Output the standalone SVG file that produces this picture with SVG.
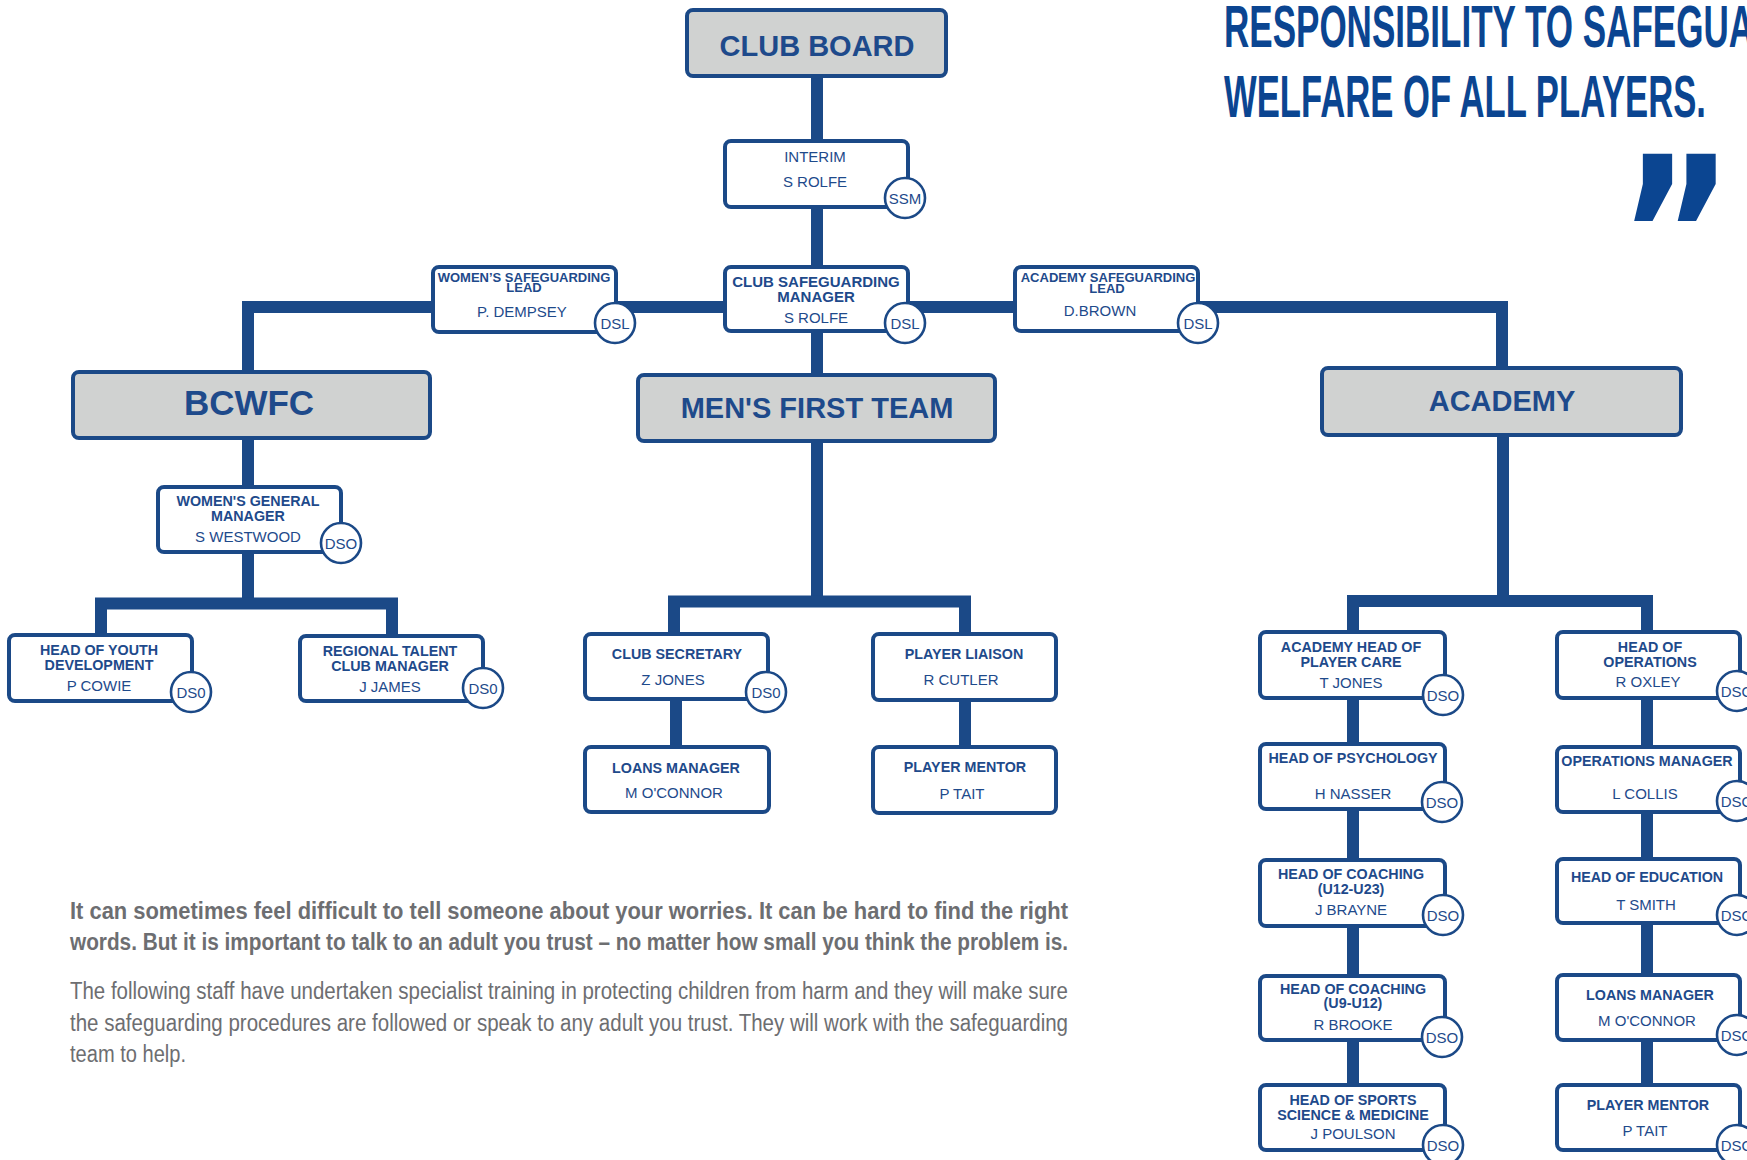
<svg xmlns="http://www.w3.org/2000/svg" width="1747" height="1160" viewBox="0 0 1747 1160">
<style>
.bg{fill:#ffffff}
.c{fill:none;stroke:#1b4987;stroke-width:12;stroke-linejoin:miter;stroke-linecap:butt}
.b{fill:#ffffff;stroke:#1b4987;stroke-width:4}
.g{fill:#d0d2d1;stroke:#1b4987;stroke-width:4}
.o{fill:#ffffff;stroke:#1b4987;stroke-width:2.6}
text{font-family:"Liberation Sans",Arial,sans-serif;fill:#1e4a8b;text-anchor:middle}
.h{font-weight:bold;font-size:29px}
.t{font-weight:bold;font-size:14.3px}
.ts{font-weight:bold;font-size:13px}
.n{font-size:15px}
.d{font-size:15px}
.hl{fill:#0b4591;font-weight:bold;font-size:59px;text-anchor:start}
.q{fill:#0b4591;font-family:"DejaVu Sans",sans-serif;font-weight:bold;font-size:215px;text-anchor:start}
.p{fill:#6d6e71;font-size:23px;text-anchor:start}
.pb{font-weight:bold}
</style>
<rect class="bg" x="0" y="0" width="1747" height="1160"/>

<g id="headline">
<text class="hl" x="1224" y="47" textLength="530" lengthAdjust="spacingAndGlyphs">RESPONSIBILITY TO SAFEGUA</text>
<text class="hl" x="1224" y="117" textLength="482" lengthAdjust="spacingAndGlyphs">WELFARE OF ALL PLAYERS.</text>
<text class="q" x="0" y="0" transform="translate(1618,311) scale(0.82,1)">”</text>
</g>

<g id="connectors">
<path class="c" d="M817,78 V601"/>
<path class="c" d="M432,307 H248 V371"/>
<path class="c" d="M432,307 H1200"/>
<path class="c" d="M1200,307 H1502 V367"/>
<path class="c" d="M248,440 V603.5"/>
<path class="c" d="M101,634 V603.5 H392 V635"/>
<path class="c" d="M674,633 V601.5 H965 V633"/>
<path class="c" d="M676,701 V746"/>
<path class="c" d="M965,702 V746"/>
<path class="c" d="M1503,437 V601"/>
<path class="c" d="M1353,631 V601 H1647 V631"/>
<path class="c" d="M1353,700 V1084"/>
<path class="c" d="M1647,700 V1084"/>
</g>

<g id="club-board">
<rect class="g" x="687" y="10" width="259" height="66" rx="6"/>
<text class="h" x="817" y="56">CLUB BOARD</text>
</g>

<g id="interim">
<rect class="b" x="725" y="141" width="183" height="66" rx="6"/>
<text class="n" x="815" y="162">INTERIM</text>
<text class="n" x="815" y="187">S ROLFE</text>
<circle class="o" cx="905" cy="198" r="20"/>
<text class="d" x="905" y="203.5">SSM</text>
</g>

<g id="club-safeguarding-manager">
<rect class="b" x="725" y="267" width="183" height="64" rx="6"/>
<text class="t" x="816" y="287" style="font-size:15px">CLUB SAFEGUARDING</text>
<text class="t" x="816" y="302" style="font-size:15px">MANAGER</text>
<text class="n" x="816" y="323">S ROLFE</text>
<circle class="o" cx="905" cy="323" r="20"/>
<text class="d" x="905" y="328.5">DSL</text>
</g>

<g id="womens-safeguarding-lead">
<rect class="b" x="433" y="267" width="183" height="65" rx="6"/>
<text class="ts" x="524" y="282">WOMEN’S SAFEGUARDING</text>
<text class="ts" x="524" y="292">LEAD</text>
<text class="n" x="522" y="317">P. DEMPSEY</text>
<circle class="o" cx="615" cy="323" r="20"/>
<text class="d" x="615" y="328.5">DSL</text>
</g>

<g id="academy-safeguarding-lead">
<rect class="b" x="1015" y="267" width="183" height="64" rx="6"/>
<text class="ts" x="1108" y="282">ACADEMY SAFEGUARDING</text>
<text class="ts" x="1107" y="293">LEAD</text>
<text class="n" x="1100" y="316">D.BROWN</text>
<circle class="o" cx="1198" cy="323" r="20"/>
<text class="d" x="1198" y="328.5">DSL</text>
</g>

<g id="bcwfc">
<rect class="g" x="73" y="372" width="357" height="66" rx="6"/>
<text class="h" x="249" y="415" style="font-size:35px">BCWFC</text>
</g>

<g id="mens-first-team">
<rect class="g" x="638" y="375" width="357" height="66" rx="6"/>
<text class="h" x="817" y="418">MEN'S FIRST TEAM</text>
</g>

<g id="academy">
<rect class="g" x="1322" y="368" width="359" height="67" rx="6"/>
<text class="h" x="1502" y="411">ACADEMY</text>
</g>

<g id="womens-general-manager">
<rect class="b" x="158" y="487" width="183" height="65" rx="6"/>
<text class="t" x="248" y="506">WOMEN'S GENERAL</text>
<text class="t" x="248" y="521">MANAGER</text>
<text class="n" x="248" y="542">S WESTWOOD</text>
<circle class="o" cx="341" cy="543" r="20"/>
<text class="d" x="341" y="548.5">DSO</text>
</g>

<g id="head-of-youth-development">
<rect class="b" x="9" y="635" width="183" height="66" rx="6"/>
<text class="t" x="99" y="655">HEAD OF YOUTH</text>
<text class="t" x="99" y="670">DEVELOPMENT</text>
<text class="n" x="99" y="691">P COWIE</text>
<circle class="o" cx="191" cy="692" r="20"/>
<text class="d" x="191" y="697.5">DS0</text>
</g>

<g id="regional-talent-club-manager">
<rect class="b" x="300" y="636" width="183" height="65" rx="6"/>
<text class="t" x="390" y="656">REGIONAL TALENT</text>
<text class="t" x="390" y="671">CLUB MANAGER</text>
<text class="n" x="390" y="692">J JAMES</text>
<circle class="o" cx="483" cy="688" r="20"/>
<text class="d" x="483" y="693.5">DS0</text>
</g>

<g id="club-secretary">
<rect class="b" x="585" y="634" width="183" height="65" rx="6"/>
<text class="t" x="677" y="659">CLUB SECRETARY</text>
<text class="n" x="673" y="685">Z JONES</text>
<circle class="o" cx="766" cy="692" r="20"/>
<text class="d" x="766" y="697.5">DS0</text>
</g>

<g id="mens-loans-manager">
<rect class="b" x="585" y="747" width="184" height="65" rx="6"/>
<text class="t" x="676" y="773">LOANS MANAGER</text>
<text class="n" x="674" y="798">M O'CONNOR</text>
</g>

<g id="player-liaison">
<rect class="b" x="873" y="634" width="183" height="66" rx="6"/>
<text class="t" x="964" y="659">PLAYER LIAISON</text>
<text class="n" x="961" y="685">R CUTLER</text>
</g>

<g id="mens-player-mentor">
<rect class="b" x="873" y="747" width="183" height="66" rx="6"/>
<text class="t" x="965" y="772">PLAYER MENTOR</text>
<text class="n" x="962" y="799">P TAIT</text>
</g>

<g id="academy-head-of-player-care">
<rect class="b" x="1260" y="632" width="185" height="66" rx="6"/>
<text class="t" x="1351" y="652">ACADEMY HEAD OF</text>
<text class="t" x="1351" y="667">PLAYER CARE</text>
<text class="n" x="1351" y="688">T JONES</text>
<circle class="o" cx="1443" cy="695" r="20"/>
<text class="d" x="1443" y="700.5">DSO</text>
</g>

<g id="head-of-psychology">
<rect class="b" x="1260" y="744" width="185" height="65" rx="6"/>
<text class="t" x="1353" y="763">HEAD OF PSYCHOLOGY</text>
<text class="n" x="1353" y="799">H NASSER</text>
<circle class="o" cx="1442" cy="802" r="20"/>
<text class="d" x="1442" y="807.5">DSO</text>
</g>

<g id="head-of-coaching-u12-u23">
<rect class="b" x="1260" y="860" width="185" height="66" rx="6"/>
<text class="t" x="1351" y="879">HEAD OF COACHING</text>
<text class="t" x="1351" y="894">(U12-U23)</text>
<text class="n" x="1351" y="915">J BRAYNE</text>
<circle class="o" cx="1443" cy="915" r="20"/>
<text class="d" x="1443" y="920.5">DSO</text>
</g>

<g id="head-of-coaching-u9-u12">
<rect class="b" x="1260" y="976" width="185" height="64" rx="6"/>
<text class="t" x="1353" y="994">HEAD OF COACHING</text>
<text class="t" x="1353" y="1008">(U9-U12)</text>
<text class="n" x="1353" y="1030">R BROOKE</text>
<circle class="o" cx="1442" cy="1037" r="20"/>
<text class="d" x="1442" y="1042.5">DSO</text>
</g>

<g id="head-of-sports-science-medicine">
<rect class="b" x="1260" y="1085" width="185" height="65" rx="6"/>
<text class="t" x="1353" y="1105">HEAD OF SPORTS</text>
<text class="t" x="1353" y="1120">SCIENCE &amp; MEDICINE</text>
<text class="n" x="1353" y="1139">J POULSON</text>
<circle class="o" cx="1443" cy="1145" r="20"/>
<text class="d" x="1443" y="1150.5">DSO</text>
</g>

<g id="head-of-operations">
<rect class="b" x="1557" y="632" width="183" height="66" rx="6"/>
<text class="t" x="1650" y="652">HEAD OF</text>
<text class="t" x="1650" y="667">OPERATIONS</text>
<text class="n" x="1648" y="687">R OXLEY</text>
<circle class="o" cx="1737" cy="691" r="20"/>
<text class="d" x="1737" y="696.5">DSO</text>
</g>

<g id="operations-manager">
<rect class="b" x="1557" y="747" width="183" height="65" rx="6"/>
<text class="t" x="1647" y="766">OPERATIONS MANAGER</text>
<text class="n" x="1645" y="799">L COLLIS</text>
<circle class="o" cx="1737" cy="801" r="20"/>
<text class="d" x="1737" y="806.5">DSO</text>
</g>

<g id="head-of-education">
<rect class="b" x="1557" y="859" width="183" height="64" rx="6"/>
<text class="t" x="1647" y="882">HEAD OF EDUCATION</text>
<text class="n" x="1646" y="910">T SMITH</text>
<circle class="o" cx="1737" cy="915" r="20"/>
<text class="d" x="1737" y="920.5">DSO</text>
</g>

<g id="academy-loans-manager">
<rect class="b" x="1557" y="975" width="183" height="65" rx="6"/>
<text class="t" x="1650" y="1000">LOANS MANAGER</text>
<text class="n" x="1647" y="1026">M O'CONNOR</text>
<circle class="o" cx="1737" cy="1035" r="20"/>
<text class="d" x="1737" y="1040.5">DSO</text>
</g>

<g id="academy-player-mentor">
<rect class="b" x="1557" y="1085" width="183" height="65" rx="6"/>
<text class="t" x="1648" y="1110">PLAYER MENTOR</text>
<text class="n" x="1645" y="1136">P TAIT</text>
<circle class="o" cx="1737" cy="1145" r="20"/>
<text class="d" x="1737" y="1150.5">DSO</text>
</g>

<g id="body-text">
<text class="p pb" x="70" y="919" textLength="998" lengthAdjust="spacingAndGlyphs">It can sometimes feel difficult to tell someone about your worries. It can be hard to find the right</text>
<text class="p pb" x="70" y="950" textLength="998" lengthAdjust="spacingAndGlyphs">words. But it is important to talk to an adult you trust – no matter how small you think the problem is.</text>
<text class="p" x="70" y="999" textLength="998" lengthAdjust="spacingAndGlyphs">The following staff have undertaken specialist training in protecting children from harm and they will make sure</text>
<text class="p" x="70" y="1031" textLength="998" lengthAdjust="spacingAndGlyphs">the safeguarding procedures are followed or speak to any adult you trust. They will work with the safeguarding</text>
<text class="p" x="70" y="1062" textLength="116" lengthAdjust="spacingAndGlyphs">team to help.</text>
</g>
</svg>
